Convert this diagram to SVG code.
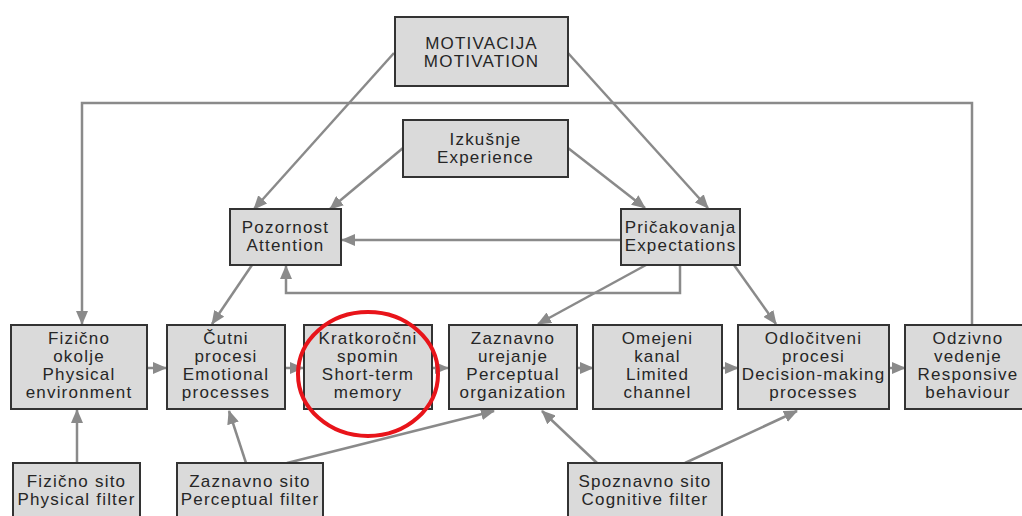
<svg xmlns="http://www.w3.org/2000/svg" width="1022" height="516" viewBox="0 0 1022 516">
<defs>
<style>
.box{fill:#dadada;stroke:#333;stroke-width:2}
.t{font-family:"Liberation Sans",Arial,sans-serif;font-size:17px;letter-spacing:1.2px;fill:#262626;text-anchor:middle}
.c{fill:none;stroke:#8a8a8a;stroke-width:2.5}
.a{marker-end:url(#ah)}
</style>
<marker id="ah" markerUnits="userSpaceOnUse" markerWidth="14" markerHeight="12" refX="13" refY="6" orient="auto">
<path d="M0,0 L14,6 L0,12 z" fill="#8a8a8a"/>
</marker>
</defs>
<rect width="1022" height="516" fill="#fff"/>
<g id="connectors">
<polyline class="c a" points="972,325 972,103 82,103 82,324"/>
<line class="c a" x1="394" y1="53" x2="254" y2="209"/>
<line class="c a" x1="568" y1="53" x2="708" y2="208"/>
<line class="c a" x1="403" y1="148" x2="330" y2="209"/>
<line class="c a" x1="568" y1="148" x2="645" y2="208"/>
<line class="c a" x1="621" y1="240" x2="342" y2="240"/>
<polyline class="c a" points="680,265 680,293 286,293 286,266"/>
<line class="c a" x1="252" y1="265" x2="212" y2="324"/>
<line class="c a" x1="646" y1="265" x2="538" y2="324"/>
<line class="c a" x1="734" y1="265" x2="776" y2="324"/>
<line class="c a" x1="147" y1="368" x2="166" y2="368"/>
<line class="c a" x1="285" y1="368" x2="303" y2="368"/>
<line class="c a" x1="432" y1="368" x2="448" y2="368"/>
<line class="c a" x1="577" y1="368" x2="593" y2="368"/>
<line class="c a" x1="722" y1="368" x2="738" y2="368"/>
<line class="c a" x1="889" y1="368" x2="905" y2="368"/>
<line class="c a" x1="77" y1="463" x2="77" y2="410"/>
<line class="c a" x1="246" y1="463" x2="229" y2="411"/>
<line class="c a" x1="287" y1="463" x2="494" y2="411"/>
<line class="c a" x1="597" y1="463" x2="542" y2="411"/>
<line class="c a" x1="685" y1="463" x2="797" y2="411"/>
</g>
<g id="motivacija"><rect class="box" x="395" y="17" width="173" height="69"/><text class="t" x="481.5" y="49">MOTIVACIJA</text><text class="t" x="481.5" y="67">MOTIVATION</text></g>
<g id="izkusnje"><rect class="box" x="403" y="120" width="165" height="57"/><text class="t" x="485.5" y="145">Izkušnje</text><text class="t" x="485.5" y="163">Experience</text></g>
<g id="pozornost"><rect class="box" x="230" y="209" width="111" height="56"/><text class="t" x="285.5" y="233">Pozornost</text><text class="t" x="285.5" y="251">Attention</text></g>
<g id="pricakovanja"><rect class="box" x="621" y="209" width="119" height="56"/><text class="t" x="680.5" y="233">Pričakovanja</text><text class="t" x="680.5" y="251">Expectations</text></g>
<g id="fizicno-okolje"><rect class="box" x="11" y="325" width="136" height="84"/><text class="t" x="79" y="344">Fizično</text><text class="t" x="79" y="362">okolje</text><text class="t" x="79" y="380">Physical</text><text class="t" x="79" y="398">environment</text></g>
<g id="cutni-procesi"><rect class="box" x="167" y="325" width="118" height="84"/><text class="t" x="226" y="344">Čutni</text><text class="t" x="226" y="362">procesi</text><text class="t" x="226" y="380">Emotional</text><text class="t" x="226" y="398">processes</text></g>
<g id="kratkorocni-spomin"><rect class="box" x="304" y="325" width="128" height="84"/><text class="t" x="368" y="344">Kratkoročni</text><text class="t" x="368" y="362">spomin</text><text class="t" x="368" y="380">Short-term</text><text class="t" x="368" y="398">memory</text></g>
<g id="zaznavno-urejanje"><rect class="box" x="449" y="325" width="128" height="84"/><text class="t" x="513" y="344">Zaznavno</text><text class="t" x="513" y="362">urejanje</text><text class="t" x="513" y="380">Perceptual</text><text class="t" x="513" y="398">organization</text></g>
<g id="omejeni-kanal"><rect class="box" x="593" y="325" width="129" height="84"/><text class="t" x="657.5" y="344">Omejeni</text><text class="t" x="657.5" y="362">kanal</text><text class="t" x="657.5" y="380">Limited</text><text class="t" x="657.5" y="398">channel</text></g>
<g id="odlocitveni-procesi"><rect class="box" x="738" y="325" width="151" height="84"/><text class="t" x="813.5" y="344">Odločitveni</text><text class="t" x="813.5" y="362">procesi</text><text class="t" x="813.5" y="380">Decision-making</text><text class="t" x="813.5" y="398">processes</text></g>
<g id="odzivno-vedenje"><rect class="box" x="905" y="325" width="130" height="84"/><text class="t" x="968" y="344">Odzivno</text><text class="t" x="968" y="362">vedenje</text><text class="t" x="968" y="380">Responsive</text><text class="t" x="968" y="398">behaviour</text></g>
<g id="fizicno-sito"><rect class="box" x="13" y="463" width="127" height="70"/><text class="t" x="76.5" y="487">Fizično sito</text><text class="t" x="76.5" y="505">Physical filter</text></g>
<g id="zaznavno-sito"><rect class="box" x="177" y="463" width="146" height="70"/><text class="t" x="250" y="487">Zaznavno sito</text><text class="t" x="250" y="505">Perceptual filter</text></g>
<g id="spoznavno-sito"><rect class="box" x="568" y="463" width="154" height="70"/><text class="t" x="645" y="487">Spoznavno sito</text><text class="t" x="645" y="505">Cognitive filter</text></g>
<g id="highlight"><ellipse cx="368" cy="374" rx="70" ry="62" fill="none" stroke="#e8141a" stroke-width="4"/></g>
</svg>
